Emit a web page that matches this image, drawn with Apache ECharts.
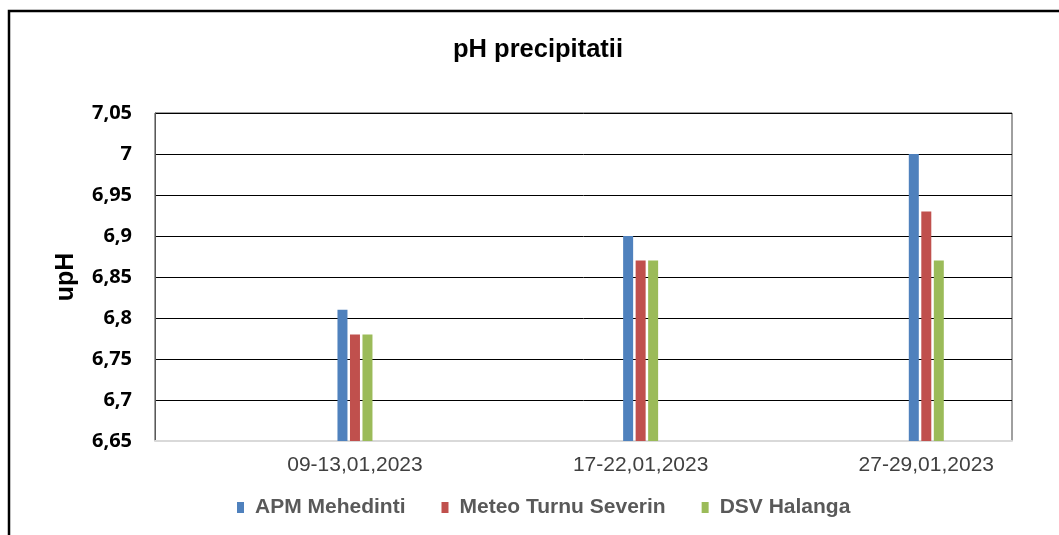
<!DOCTYPE html>
<html>
<head>
<meta charset="utf-8">
<script src="https://cdn.jsdelivr.net/npm/echarts@6/dist/echarts.min.js"></script>
<style>
html,body{margin:0;padding:0;background:#fff;}
#chart{width:1059px;height:535px;}
</style>
</head>
<body>
<div id="chart"></div>
<script>
const categories = ['09-13,01,2023', '17-22,01,2023', '27-29,01,2023'];
const seriesNames = ['APM Mehedinti', 'Meteo Turnu Severin', 'DSV Halanga'];
const apmValues = [6.81, 6.90, 7.00];
const meteoValues = [6.78, 6.87, 6.93];
const dsvValues = [6.78, 6.87, 6.87];
const yTicks = [6.65, 6.70, 6.75, 6.80, 6.85, 6.90, 6.95, 7.00, 7.05];
const colors = ['#4F81BD', '#C0504D', '#9BBB59'];

const allValues = [apmValues, meteoValues, dsvValues];
const catPos = categories.map((c, i) => i + 1);

const chart = echarts.init(document.getElementById('chart'), null, {renderer: 'canvas'});

const series = seriesNames.map((name, s) => ({
  name: name,
  type: 'bar',
  barWidth: 10,
  barGap: '25%',
  itemStyle: {color: colors[s]},
  data: allValues[s].map((v, i) => [catPos[i], v])
}));

chart.setOption({
  animation: false,
  backgroundColor: '#fff',
  color: colors,
  title: {
    text: 'pH precipitatii',
    left: 448,
    top: 32,
    padding: [5, 5, 5, 5],
    textStyle: {fontFamily: 'Liberation Sans', fontWeight: 'bold', fontSize: 25.5, color: '#000'}
  },
  graphic: [{
    type: 'rect',
    shape: {x: 9, y: 11, width: 1300, height: 900},
    style: {fill: 'none', stroke: '#000', lineWidth: 2.5},
    silent: true
  }],
  legend: {
    left: 232,
    top: 492,
    itemWidth: 7,
    itemHeight: 11,
    itemGap: 36,
    icon: 'rect',
    textStyle: {fontFamily: 'Liberation Sans', fontWeight: 'bold', fontSize: 21, color: '#595959', padding: [0, 0, 0, 6]},
    data: seriesNames
  },
  grid: {
    left: 155, right: 47, top: 113, bottom: 94,
    show: true, borderColor: '#404040', borderWidth: 1, backgroundColor: '#fff'
  },
  xAxis: {
    type: 'value',
    min: 0.3,
    max: 3.3,
    splitLine: {show: false},
    axisTick: {show: false},
    axisLine: {show: true, onZero: false, lineStyle: {color: '#d9d9d9', width: 2}},
    axisLabel: {
      customValues: catPos,
      formatter: v => categories[Math.round(v) - 1] || '',
      fontFamily: 'Liberation Sans', fontSize: 21, color: '#404040', margin: 14
    }
  },
  yAxis: {
    type: 'value',
    min: yTicks[0],
    max: yTicks[yTicks.length - 1],
    interval: 0.05,
    name: 'upH',
    nameLocation: 'middle',
    nameGap: 76,
    nameTextStyle: {fontFamily: 'Liberation Sans', fontWeight: 'bold', fontSize: 25, color: '#000'},
    axisLine: {show: true, onZero: false, lineStyle: {color: '#595959', width: 1}},
    axisTick: {show: false},
    splitLine: {show: true, lineStyle: {color: '#000', width: 1}},
    axisLabel: {
      formatter: v => String(parseFloat(v.toFixed(2))).replace('.', ','),
      fontFamily: 'Open Sans', fontWeight: 'bold', fontSize: 20, color: '#000', margin: 23
    }
  },
  series: series
});
</script>
</body>
</html>
